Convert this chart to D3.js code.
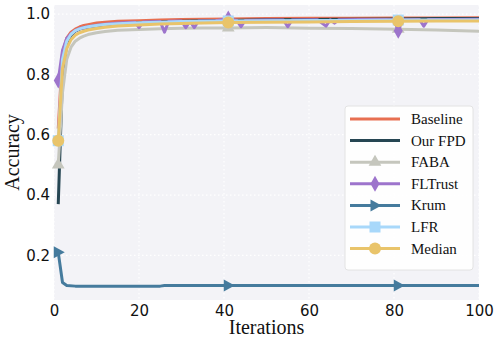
<!DOCTYPE html>
<html>
<head>
<meta charset="utf-8">
<script src="https://cdn.jsdelivr.net/npm/d3@7"></script>
<style>
  body { margin: 0; background: #fff; }
  .tick text { font-family: "DejaVu Sans", sans-serif; font-size: 15px; fill: #111; }
</style>
</head>
<body>
<div id="chart"></div>
<script>
// iterations shared by the smooth curves
const iters = [1, 2, 3, 4, 5, 6, 7, 8, 10, 12, 15, 20, 25, 30, 35, 41, 50, 60, 70, 81, 90, 100];

const baseline = [0.62, 0.87, 0.92, 0.94, 0.95, 0.957, 0.962, 0.965, 0.97, 0.973, 0.976, 0.978, 0.98, 0.982, 0.983, 0.984, 0.985, 0.986, 0.986, 0.987, 0.987, 0.988];
const ourFpd = [0.37, 0.8, 0.9, 0.93, 0.943, 0.95, 0.954, 0.957, 0.961, 0.964, 0.968, 0.971, 0.974, 0.976, 0.978, 0.979, 0.981, 0.982, 0.983, 0.984, 0.985, 0.985];
const faba = [0.5, 0.74, 0.85, 0.89, 0.91, 0.92, 0.927, 0.932, 0.938, 0.942, 0.946, 0.949, 0.951, 0.953, 0.954, 0.954, 0.955, 0.953, 0.952, 0.95, 0.947, 0.943];
const lfr = [0.58, 0.85, 0.91, 0.933, 0.945, 0.951, 0.955, 0.958, 0.962, 0.965, 0.968, 0.971, 0.973, 0.975, 0.976, 0.977, 0.978, 0.979, 0.979, 0.98, 0.98, 0.98];
const median = [0.58, 0.82, 0.885, 0.915, 0.93, 0.938, 0.943, 0.947, 0.952, 0.956, 0.96, 0.964, 0.967, 0.969, 0.97, 0.972, 0.973, 0.974, 0.975, 0.976, 0.977, 0.977];

// FLTrust has its own points (dips)
const fltIters = [1, 2, 3, 4, 5, 6, 8, 10, 12, 15, 19, 20, 21, 25, 26, 27, 30, 31, 32, 33, 34, 38, 41, 43, 44, 45, 50, 54, 55, 56, 62, 64, 65, 66, 67, 72, 78, 80, 81, 82, 86, 87, 88, 94, 100];
const fltrust = [0.78, 0.88, 0.92, 0.935, 0.945, 0.952, 0.958, 0.963, 0.966, 0.97, 0.973, 0.955, 0.974, 0.975, 0.94, 0.976, 0.977, 0.955, 0.976, 0.955, 0.977, 0.978, 0.985, 0.979, 0.958, 0.979, 0.98, 0.98, 0.958, 0.98, 0.981, 0.96, 0.981, 0.97, 0.981, 0.982, 0.982, 0.981, 0.945, 0.981, 0.982, 0.96, 0.982, 0.982, 0.983];

const krumIters = [1, 2, 3, 5, 10, 20, 25, 26, 41, 60, 81, 100];
const krum = [0.21, 0.11, 0.1, 0.098, 0.098, 0.098, 0.098, 0.1, 0.1, 0.1, 0.1, 0.1];

const xTicks = [0, 20, 40, 60, 80, 100];
const yTicks = [0.2, 0.4, 0.6, 0.8, 1.0];
const markIters = [1, 41, 81];

const series = [
  { name: "Baseline", x: iters, y: baseline, color: "#e76f51", marker: null },
  { name: "Our FPD", x: iters, y: ourFpd, color: "#264653", marker: null },
  { name: "FABA", x: iters, y: faba, color: "#c5c6bd", marker: "triangle" },
  { name: "FLTrust", x: fltIters, y: fltrust, color: "#9d74cc", marker: "diamond" },
  { name: "Krum", x: krumIters, y: krum, color: "#457b9d", marker: "right" },
  { name: "LFR", x: iters, y: lfr, color: "#a8d8fa", marker: "square" },
  { name: "Median", x: iters, y: median, color: "#e9c46a", marker: "circle" }
];

const W = 498, H = 344;
const margin = { top: 5, right: 19, bottom: 44, left: 54 },
  width = W - margin.left - margin.right,
  height = H - margin.top - margin.bottom;

const svg = d3.select("#chart").append("svg")
  .attr("width", W).attr("height", H);

const g = svg.append("g").attr("transform", `translate(${margin.left},${margin.top})`);

const x = d3.scaleLinear().domain([0, 100]).range([0, width]);
const y = d3.scaleLinear().domain([0.052, 1.03]).range([height, 0]);

// Plot background
g.append("rect").attr("width", width).attr("height", height).attr("fill", "#f3f3f7");

// Grid
g.append("g").selectAll("line").data(xTicks).join("line")
  .attr("x1", d => x(d)).attr("x2", d => x(d)).attr("y1", 0).attr("y2", height)
  .attr("stroke", "#fff").attr("stroke-width", 1.2).attr("stroke-dasharray", "1.5,2.5");
g.append("g").selectAll("line").data(yTicks).join("line")
  .attr("y1", d => y(d)).attr("y2", d => y(d)).attr("x1", 0).attr("x2", width)
  .attr("stroke", "#fff").attr("stroke-width", 1.2).attr("stroke-dasharray", "1.5,2.5");

// Axes
const xAxis = g.append("g").attr("transform", `translate(0,${height})`)
  .call(d3.axisBottom(x).tickValues(xTicks).tickSize(0).tickPadding(5));
xAxis.select(".domain").remove();
const yAxis = g.append("g")
  .call(d3.axisLeft(y).tickValues(yTicks).tickFormat(d3.format(".1f")).tickSize(0).tickPadding(4));
yAxis.select(".domain").remove();

// Axis labels
svg.append("text").attr("x", margin.left + width / 2).attr("y", 334)
  .attr("text-anchor", "middle").attr("font-family", "Liberation Serif, serif")
  .attr("font-size", 20).attr("fill", "#111").text("Iterations");
svg.append("text").attr("transform", `translate(19,${margin.top + height / 2}) rotate(-90)`)
  .attr("text-anchor", "middle").attr("font-family", "Liberation Serif, serif")
  .attr("font-size", 20).attr("fill", "#111").text("Accuracy");

const clip = g.append("clipPath").attr("id", "clip").append("rect")
  .attr("x", -8).attr("y", -8).attr("width", width + 8).attr("height", height + 16);

function drawMarker(sel, type, color, cx, cy) {
  if (type === "triangle") {
    sel.append("path").attr("d", d3.symbol(d3.symbolTriangle, 70)())
      .attr("transform", `translate(${cx},${cy})`).attr("fill", color);
  } else if (type === "diamond") {
    sel.append("path").attr("d", "M0,-8L4.5,0L0,8L-4.5,0Z")
      .attr("transform", `translate(${cx},${cy})`).attr("fill", color);
  } else if (type === "right") {
    sel.append("path").attr("d", "M6.5,0L-4.5,-6L-4.5,6Z")
      .attr("transform", `translate(${cx},${cy})`).attr("fill", color);
  } else if (type === "square") {
    sel.append("rect").attr("x", cx - 5.5).attr("y", cy - 5.5).attr("width", 11).attr("height", 11)
      .attr("fill", color);
  } else if (type === "circle") {
    sel.append("circle").attr("cx", cx).attr("cy", cy).attr("r", 6).attr("fill", color);
  }
}

const line = d3.line().x(d => x(d[0])).y(d => y(d[1]));
const plot = g.append("g").attr("clip-path", "url(#clip)");

series.forEach(s => {
  const pts = s.x.map((v, i) => [v, s.y[i]]);
  plot.append("path").datum(pts)
    .attr("d", line)
    .attr("fill", "none")
    .attr("stroke", s.color)
    .attr("stroke-width", 3)
    .attr("stroke-linejoin", "round");
  if (s.marker) {
    pts.filter(p => markIters.includes(p[0]))
      .forEach(p => drawMarker(plot, s.marker, s.color, x(p[0]), y(p[1])));
  }
});

// Legend
const lg = svg.append("g").attr("transform", "translate(345,106)");
lg.append("rect").attr("width", 128).attr("height", 164).attr("rx", 3)
  .attr("fill", "#fff").attr("fill-opacity", 0.85).attr("stroke", "#ddd").attr("stroke-width", 0.8);
series.forEach((s, i) => {
  const cy = 13 + i * 21.6;
  lg.append("line").attr("x1", 5).attr("x2", 55).attr("y1", cy).attr("y2", cy)
    .attr("stroke", s.color).attr("stroke-width", 3);
  if (s.marker) drawMarker(lg, s.marker, s.color, 30, cy);
  lg.append("text").attr("x", 66).attr("y", cy + 5)
    .attr("font-family", "Liberation Serif, serif").attr("font-size", 15)
    .attr("fill", "#111").text(s.name);
});
</script>
</body>
</html>
